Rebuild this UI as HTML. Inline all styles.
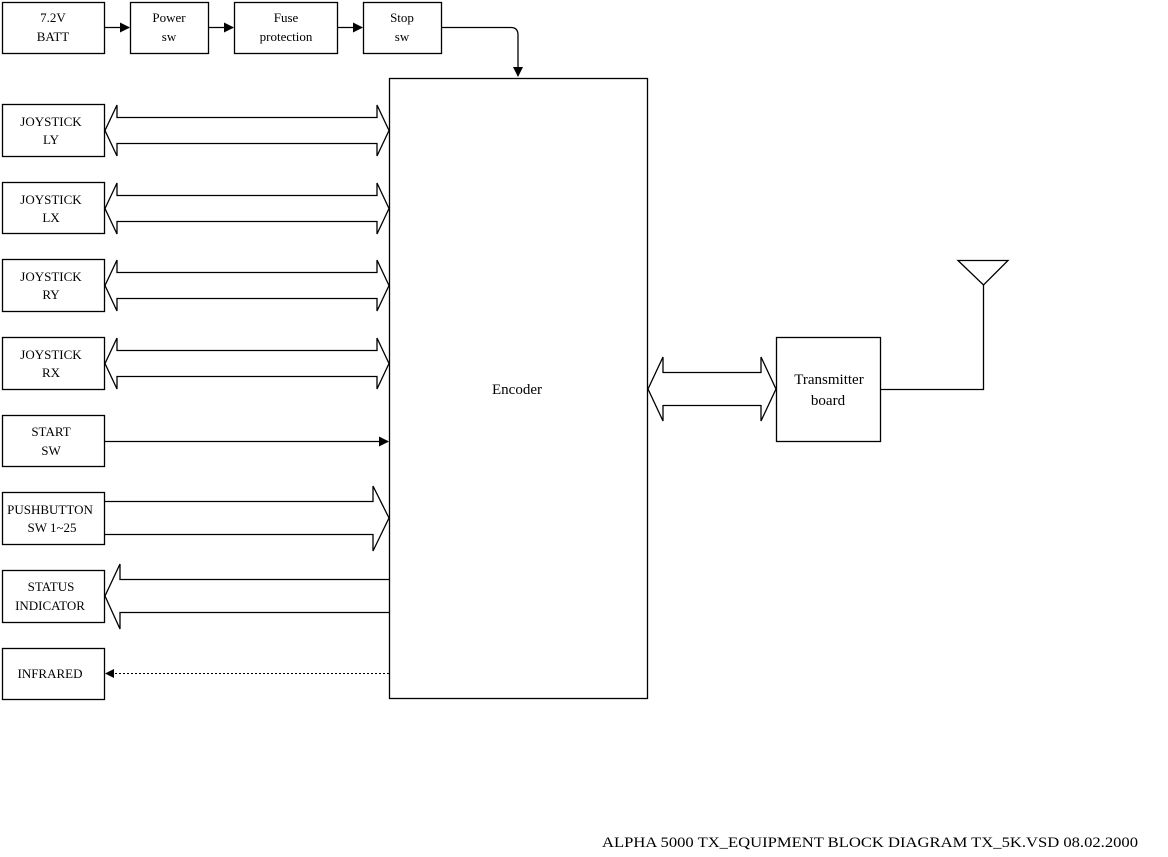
<!DOCTYPE html>
<html><head><meta charset="utf-8"><style>
html,body{margin:0;padding:0;background:#fff;}
svg{display:block;}
text{font-family:"Liberation Serif",serif;fill:#000;}
</style></head><body>
<svg width="1168" height="857" viewBox="0 0 1168 857" xmlns="http://www.w3.org/2000/svg">
<defs>
<marker id="a" markerWidth="10" markerHeight="10" refX="9" refY="5" orient="auto" markerUnits="userSpaceOnUse">
<path d="M0,0 L10,5 L0,10 z" fill="#000"/></marker>
</defs>
<g fill="none" stroke="#000" stroke-width="1.3">
<!-- top row -->
<rect x="2.5" y="2.5" width="102" height="51"/>
<rect x="130.5" y="2.5" width="78" height="51"/>
<rect x="234.5" y="2.5" width="103" height="51"/>
<rect x="363.5" y="2.5" width="78" height="51"/>
<line x1="104" y1="27.5" x2="129" y2="27.5" marker-end="url(#a)"/>
<line x1="208" y1="27.5" x2="233" y2="27.5" marker-end="url(#a)"/>
<line x1="337" y1="27.5" x2="362" y2="27.5" marker-end="url(#a)"/>
<path d="M441,27.5 L511,27.5 Q518,27.5 518,35 L518,76" marker-end="url(#a)"/>
<!-- encoder -->
<rect x="389.5" y="78.5" width="258" height="620"/>
<!-- left boxes -->
<rect x="2.5" y="104.5" width="102" height="52"/>
<rect x="2.5" y="182.5" width="102" height="51"/>
<rect x="2.5" y="259.5" width="102" height="52"/>
<rect x="2.5" y="337.5" width="102" height="52"/>
<rect x="2.5" y="415.5" width="102" height="51"/>
<rect x="2.5" y="492.5" width="102" height="52"/>
<rect x="2.5" y="570.5" width="102" height="52"/>
<rect x="2.5" y="648.5" width="102" height="51"/>
<!-- double arrows -->
<path d="M105,130.5 L117,105 L117,117.5 L377,117.5 L377,105 L389,130.5 L377,156 L377,143.5 L117,143.5 L117,156 Z"/>
<path d="M105,208.5 L117,183 L117,195.5 L377,195.5 L377,183 L389,208.5 L377,234 L377,221.5 L117,221.5 L117,234 Z"/>
<path d="M105,285.5 L117,260 L117,272.5 L377,272.5 L377,260 L389,285.5 L377,311 L377,298.5 L117,298.5 L117,311 Z"/>
<path d="M105,363.5 L117,338 L117,350.5 L377,350.5 L377,338 L389,363.5 L377,389 L377,376.5 L117,376.5 L117,389 Z"/>
<!-- start -->
<line x1="104" y1="441.5" x2="388" y2="441.5" marker-end="url(#a)"/>
<!-- pushbutton -->
<path d="M104,501.5 L373,501.5 L373,486 L389,518 L373,551 L373,534.5 L104,534.5"/>
<!-- status -->
<path d="M389,579.5 L120,579.5 L120,564 L105,596 L120,629 L120,612.5 L389,612.5"/>
<!-- infrared -->
<line x1="389" y1="673.5" x2="106" y2="673.5" stroke-dasharray="2,2" stroke-width="1"/>
<path d="M105,673.5 L114,669 L114,678 Z" fill="#000" stroke="none"/>
<!-- transmitter -->
<path d="M648,389 L663,357 L663,372.5 L761,372.5 L761,357 L776,389 L761,421 L761,405.5 L663,405.5 L663,421 Z"/>
<rect x="776.5" y="337.5" width="104" height="104"/>
<path d="M880,389.5 L983.5,389.5 L983.5,285"/>
<path d="M958,260.5 L1008,260.5 L983.5,285 Z"/>
</g>
<g font-size="13" text-anchor="middle">
<text x="53" y="22">7.2V</text><text x="53" y="41">BATT</text>
<text x="169" y="22">Power</text><text x="169" y="41">sw</text>
<text x="286" y="22">Fuse</text><text x="286" y="41">protection</text>
<text x="402" y="22">Stop</text><text x="402" y="41">sw</text>
<text x="51" y="126">JOYSTICK</text><text x="51" y="144">LY</text>
<text x="51" y="204">JOYSTICK</text><text x="51" y="222">LX</text>
<text x="51" y="281">JOYSTICK</text><text x="51" y="299">RY</text>
<text x="51" y="359">JOYSTICK</text><text x="51" y="377">RX</text>
<text x="51" y="436">START</text><text x="51" y="455">SW</text>
<text x="50" y="514">PUSHBUTTON</text><text x="52" y="532">SW 1~25</text>
<text x="51" y="591">STATUS</text><text x="50" y="610">INDICATOR</text>
<text x="50" y="678">INFRARED</text>
</g>
<text x="517" y="394" font-size="15" text-anchor="middle">Encoder</text>
<text x="829" y="384" font-size="15" text-anchor="middle">Transmitter</text>
<text x="828" y="405" font-size="15" text-anchor="middle">board</text>
<text x="870" y="847" font-size="15" text-anchor="middle" textLength="536" lengthAdjust="spacingAndGlyphs">ALPHA 5000 TX_EQUIPMENT BLOCK DIAGRAM TX_5K.VSD 08.02.2000</text>
</svg>
</body></html>
